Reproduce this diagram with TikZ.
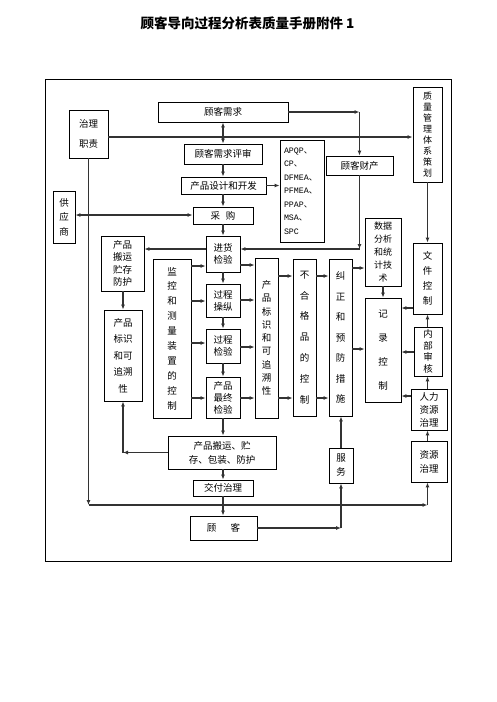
\documentclass[tikz,border=0pt]{standalone}
\usepackage{fontspec}
\setmainfont{Noto Sans CJK SC}
\setmonofont{Liberation Mono}
\usetikzlibrary{arrows.meta}
\newcommand\fs[2]{\fontsize{#1}{#2}\selectfont}
\begin{document}
\begin{tikzpicture}[x=1pt,y=-1pt,
  box/.style={draw, line width=0.8pt, inner sep=0pt, align=center, font=\fs{9.5}{12}},
  arr/.style={-{Latex[length=5pt,width=4pt]}, line width=1.1pt, draw=black!80},
  dbl/.style={{Latex[length=5pt,width=4pt]}-{Latex[length=5pt,width=4pt]}, line width=1.1pt, draw=black!80}]
\useasboundingbox (0,0) rectangle (496,702);
\node[font=\bfseries\fs{13.5}{16}] (title) at (247.5,23) {顾客导向过程分析表质量手册附件 1};
\node[draw, line width=0.9pt, minimum width=406pt, minimum height=482pt, inner sep=0pt] (frame) at (248,320) {};
% boxes
\node[box, minimum width=39pt, minimum height=48pt, font=\fs{9.5}{20}] (zlzz) at (88.5,134) {治理\\职责};
\node[box, minimum width=130pt, minimum height=20pt] (gkxq) at (223,112) {顾客需求};
\node[box, minimum width=78pt, minimum height=20pt] (psh) at (223,154) {顾客需求评审};
\node[box, minimum width=85pt, minimum height=17pt] (sj) at (223.5,185.5) {产品设计和开发};
\node[box, minimum width=60pt, minimum height=17pt] (cg) at (223,215.5) {采\hspace{0.6em}购};
\node[box, minimum width=22pt, minimum height=52pt, font=\fs{9.5}{14.5}] (gys) at (64,217) {供\\应\\商};
\node[box, minimum width=44pt, minimum height=102pt, align=left, text width=36pt, font=\fs{8.3}{13.5}] (apqp) at (302,191) {\texttt{APQP}、\\\texttt{CP}、\\\texttt{DFMEA}、\\\texttt{PFMEA}、\\\texttt{PPAP}、\\\texttt{MSA}、\\\texttt{SPC}};
\node[box, minimum width=67pt, minimum height=19pt] (gkcc) at (359.5,165.5) {顾客财产};
\node[box, minimum width=29pt, minimum height=95pt, font=\fs{9}{11}] (zlgl) at (427.5,134.5) {质\\量\\管\\理\\体\\系\\策\\划};
\node[box, minimum width=36pt, minimum height=68pt, font=\fs{9}{13}] (sjfx) at (383,252) {数据\\分析\\和统\\计技\\术};
\node[box, minimum width=29pt, minimum height=71pt, font=\fs{9.5}{15}] (wjkz) at (427.5,278.5) {文\\件\\控\\制};
\node[box, minimum width=36pt, minimum height=104pt, font=\fs{9.5}{24}] (jlkz) at (383,350) {记\\录\\控\\制};
\node[box, minimum width=28pt, minimum height=49pt, font=\fs{9.5}{11.5}] (nbsh) at (428,351.5) {内\\部\\审\\核};
\node[box, minimum width=36pt, minimum height=41pt, font=\fs{9.5}{13}] (rlzy) at (429,409.5) {人力\\资源\\治理};
\node[box, minimum width=23pt, minimum height=157pt, font=\fs{9.5}{20.5}] (jz) at (340.5,337.5) {纠\\正\\和\\预\\防\\措\\施};
\node[box, minimum width=23pt, minimum height=157pt, font=\fs{9.5}{20.8}] (bhg) at (304.5,337.5) {不\\合\\格\\品\\的\\控\\制};
\node[box, minimum width=23pt, minimum height=160pt, font=\fs{9.5}{13.3}] (bs2) at (266.5,338) {产\\品\\标\\识\\和\\可\\追\\溯\\性};
\node[box, minimum width=43pt, minimum height=55pt, font=\fs{9.5}{12.5}] (bycc) at (122.5,263.5) {产品\\搬运\\贮存\\防护};
\node[box, minimum width=38pt, minimum height=91pt, font=\fs{9.5}{16.5}] (bs1) at (123,355.5) {产品\\标识\\和可\\追溯\\性};
\node[box, minimum width=38pt, minimum height=159pt, font=\fs{9.5}{14.9}] (jk) at (172,338.5) {监\\控\\和\\测\\量\\装\\置\\的\\控\\制};
\node[box, minimum width=34pt, minimum height=36pt] (jh) at (223,254) {进货\\检验};
\node[box, minimum width=34pt, minimum height=33pt] (gccz) at (223,300.5) {过程\\操纵};
\node[box, minimum width=34pt, minimum height=34pt] (gcjy) at (223,346) {过程\\检验};
\node[box, minimum width=34pt, minimum height=41pt] (zzjy) at (223,397.5) {产品\\最终\\检验};
\node[box, minimum width=108pt, minimum height=33pt, font=\fs{9.5}{14}] (bz) at (222,452.5) {产品搬运、贮\\存、包装、防护};
\node[box, minimum width=60pt, minimum height=16pt] (jf) at (223,488) {交付治理};
\node[box, minimum width=67pt, minimum height=24pt] (gk) at (223.5,528) {顾\hspace{1.5em}客};
\node[box, minimum width=24pt, minimum height=35pt, font=\fs{9.5}{14}] (fw) at (341,465.5) {服\\务};
\node[box, minimum width=36pt, minimum height=41pt, font=\fs{9.5}{14}] (zygl) at (429,461.5) {资源\\治理};
% row coordinates
\foreach \r in {137,215,249,265,266,268,276,300,301,308,343,347,349,352,396,398,505}
  \coordinate (y\r) at (0,\r);
% top
\draw[arr] (zlzz.east |- y137) -- (zlgl.west |- y137);
\draw[dbl] (gkxq.south) -- (psh.north);
\draw[arr] (psh.south) -- (psh.south |- sj.north);
\draw[arr] (sj.south -| cg.south) -- (cg.north);
\draw[arr] (cg.south) -- (jh.north);
\draw[dbl] (gys.east |- y215) -- (cg.west |- y215);
\draw[arr] (sj.east) -- (sj.east -| apqp.west);
\coordinate (c1) at (gkcc.north |- gkxq.east);
\draw[arr] (gkxq.east) -- (c1);
\draw[arr] (c1) -- (gkcc.north);
\coordinate (c2) at (gkcc.south |- y249);
\draw[arr] (gkcc.south) -- (c2);
\draw[arr] (c2) -- (jh.east |- y249);
\draw[arr] (jh.west |- y249) -- (bycc.east |- y249);
\draw[arr] (bycc.south -| bs1.north) -- (bs1.north);
% monitoring column
\draw[arr] (jk.east |- y266) -- (jh.west |- y266);
\draw[arr] (jk.east |- y301) -- (gccz.west |- y301);
\draw[arr] (jk.east |- y343) -- (gcjy.west |- y343);
\draw[arr] (jk.east |- y398) -- (zzjy.west |- y398);
\draw[arr] (jh.south) -- (gccz.north);
\draw[arr] (gccz.south) -- (gcjy.north);
\draw[arr] (gcjy.south) -- (zzjy.north);
% to identification
\draw[arr] (jh.east |- y265) -- (bs2.west |- y265);
\draw[arr] (gccz.east |- y300) -- (bs2.west |- y300);
\draw[arr] (gcjy.east |- y347) -- (bs2.west |- y347);
\draw[arr] (zzjy.east |- y398) -- (bs2.west |- y398);
\draw[arr] (bs2.east |- y276) -- (bhg.west |- y276);
\draw[arr] (bs2.east |- y398) -- (bhg.west |- y398);
\draw[arr] (bhg.east |- y276) -- (jz.west |- y276);
\draw[arr] (bhg.east |- y398) -- (jz.west |- y398);
\draw[arr] (jz.east |- y268) -- (sjfx.west |- y268);
\draw[arr] (jz.east |- y349) -- (jlkz.west |- y349);
\draw[arr] (sjfx.south) -- (jlkz.north);
% right column
\draw[arr] (wjkz.west |- y308) -- (jlkz.east |- y308);
\draw[arr] (nbsh.west |- y352) -- (jlkz.east |- y352);
\draw[arr] (rlzy.west |- y396) -- (jlkz.east |- y396);
\draw[arr] (zlgl.south) -- (wjkz.north);
\draw[arr] (nbsh.north -| wjkz.south) -- (wjkz.south);
\draw[arr] (rlzy.north -| wjkz.south) -- (nbsh.south -| wjkz.south);
\draw[arr] (zygl.north -| wjkz.south) -- (rlzy.south -| wjkz.south);
% bottom
\draw[arr] (zzjy.south) -- (zzjy.south |- bz.north);
\draw[arr] (bz.south -| jf.north) -- (jf.north);
\draw[arr] (jf.south) -- (gk.north -| jf.south);
\coordinate (c4) at (bs1.south |- bz.west);
\draw[arr] (bz.west) -- (c4);
\draw[arr] (c4) -- (bs1.south);
\coordinate (c3) at (fw.south |- gk.east);
\draw[arr] (gk.east) -- (c3);
\draw[arr] (c3) -- (fw.south);
\draw[arr] (fw.north) -- (fw.north |- jz.south);
\coordinate (c5) at (zlzz.south |- y505);
\coordinate (c6) at (wjkz.south |- y505);
\draw[arr] (zlzz.south) -- (c5);
\draw[arr] (c5) -- (c6);
\draw[arr] (c6) -- (zygl.south -| c6);
\end{tikzpicture}
\end{document}
